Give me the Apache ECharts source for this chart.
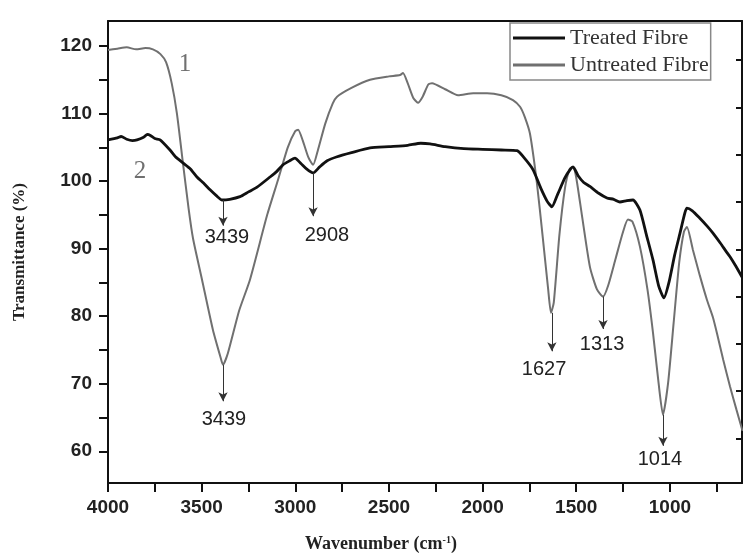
<!DOCTYPE html>
<html>
<head>
<meta charset="utf-8">
<script src="https://cdn.jsdelivr.net/npm/echarts@6/dist/echarts.min.js"></script>
<style>
  html, body { margin: 0; padding: 0; background: #fff; }
  #chart { width: 743px; height: 560px; }
</style>
</head>
<body>
<div id="chart"></div>
<script>
// wavenumber (cm-1), transmittance (%)
var untreated = [
  [4000,119.4],[3950,119.6],[3900,119.8],[3850,119.5],[3800,119.7],[3760,119.5],
  [3720,118.8],[3690,117.6],[3660,114.5],[3632,110],[3600,102.7],[3570,96],
  [3546,91.5],[3498,85.4],[3440,78],[3400,74],[3386,72.8],[3360,74.5],
  [3300,80.8],[3242,85.4],[3150,95],[3092,100.2],[3040,105],[3000,107.4],
  [2985,107.6],[2960,106],[2930,103.5],[2905,102.4],[2880,104.5],[2840,108.5],
  [2800,111.5],[2777,112.5],[2700,113.8],[2601,115],[2500,115.5],[2441,115.7],
  [2425,116],[2400,114.5],[2370,112.3],[2345,111.6],[2320,112.5],[2290,114.3],
  [2270,114.5],[2200,113.6],[2131,112.7],[2050,113],[1976,113],[1900,112.7],
  [1838,112],[1800,111],[1775,109.5],[1747,107],[1710,99.7],[1680,92],
  [1650,84],[1635,80.5],[1620,82],[1590,92],[1560,99],[1535,101.8],
  [1517,102.1],[1500,100.5],[1470,95],[1427,87.3],[1390,84],[1357,82.9],
  [1330,84.5],[1290,88.5],[1250,92.5],[1224,94.3],[1200,94],[1160,90.3],
  [1120,84],[1090,77.5],[1060,70],[1037,65.4],[1010,70],[980,79],
  [950,88],[925,92.5],[909,93.2],[877,89.8],[840,86],[802,82.4],
  [770,79.8],[749,77.5],[715,73.5],[679,69.6],[645,66.2],[612,63]
];
var treated = [
  [4000,106.1],[3950,106.4],[3930,106.6],[3900,106.2],[3870,106.0],[3845,106.1],
  [3810,106.5],[3790,106.9],[3776,106.8],[3750,106.3],[3722,106.1],[3669,104.6],
  [3640,103.6],[3600,102.7],[3560,101.8],[3525,100.6],[3490,99.7],[3455,98.7],
  [3420,97.8],[3391,97.2],[3350,97.3],[3295,97.7],[3250,98.4],[3204,99.1],
  [3135,100.6],[3100,101.4],[3066,102.4],[3030,103],[3002,103.4],[2970,102.6],
  [2940,101.8],[2905,101.2],[2870,102.1],[2830,103],[2777,103.6],[2700,104.2],
  [2601,104.9],[2500,105.1],[2400,105.3],[2330,105.6],[2280,105.5],[2200,105.1],
  [2100,104.8],[2000,104.7],[1900,104.6],[1816,104.5],[1780,103.5],[1731,101.7],
  [1690,99],[1655,97],[1630,96.2],[1600,98],[1560,100.5],[1530,101.8],
  [1517,102.1],[1490,100.8],[1460,99.8],[1427,99.2],[1380,98.2],[1336,97.5],
  [1300,97.3],[1267,96.9],[1230,97.1],[1197,97.2],[1160,95.7],[1125,92],
  [1090,88.3],[1060,84.5],[1032,82.7],[1005,85],[975,89],[946,92.3],
  [920,95.3],[909,96],[880,95.6],[840,94.5],[800,93.3],[770,92.3],
  [730,90.8],[700,89.6],[679,88.8],[650,87.5],[615,85.8]
];

var seriesNames = ['Treated Fibre', 'Untreated Fibre'];

var xLabelValues = [4000, 3500, 3000, 2500, 2000, 1500, 1000];
var xTickValues = [4000, 3750, 3500, 3250, 3000, 2750, 2500, 2250, 2000, 1750, 1500, 1250, 1000, 750];
var yLabelValues = [60, 70, 80, 90, 100, 110, 120];
var yTickValues = [60, 65, 70, 75, 80, 85, 90, 95, 100, 105, 110, 115, 120];
var rightTickValues = [61.9, 68.9, 75.9, 82.9, 89.9, 96.9, 103.9, 110.9, 117.9];

// peak arrows: [wavenumber, from, to], label: [text, x, y]
var treatedPeaks = [[3386, 97.2, 93.4], [2905, 101.2, 94.8]];
var treatedLabels = [['3439', 3365, 91.6], ['2908', 2831, 92.0]];
var untreatedPeaks = [[3386, 72.8, 67.4], [1630, 80.5, 74.8], [1357, 82.9, 78.1], [1037, 65.4, 60.8]];
var untreatedLabels = [['3439', 3381, 64.7], ['1627', 1672, 72.1], ['1313', 1362, 75.8], ['1014', 1053, 58.8]];
// curve numbers: [text, x, y]
var curveTags = [['1', 3589, 117.2], ['2', 3829, 101.4]];

var chart = echarts.init(document.getElementById('chart'));

function arrows(list) {
  return list.map(function (p) {
    return [{ coord: [p[0], p[1]] }, { coord: [p[0], p[2]] }];
  });
}
function textPoints(list, style) {
  return list.map(function (p) {
    return {
      coord: [p[1], p[2]],
      symbol: 'circle', symbolSize: 1,
      itemStyle: { color: 'rgba(0,0,0,0)' },
      label: Object.assign({ show: true, position: 'inside', formatter: p[0] }, style)
    };
  });
}

var peakStyle = { fontFamily: 'Liberation Sans', fontSize: 20, color: '#222' };
var tagStyle = { fontFamily: 'Liberation Serif', fontSize: 25, color: '#707070' };

var option = {
  animation: false,
  backgroundColor: '#fff',
  grid: { left: 108, right: 1, top: 21, bottom: 77 },
  title: {
    text: '{a|Wavenumber (cm}{s|-1}{a|)}',
    left: 376, top: 530, textAlign: 'center',
    textStyle: {
      rich: {
        a: { fontFamily: 'Liberation Serif', fontWeight: 'bold', fontSize: 18, color: '#222' },
        s: { fontFamily: 'Liberation Serif', fontWeight: 'bold', fontSize: 10, color: '#222', verticalAlign: 'top', padding: [0, 0, 8, 0] }
      }
    }
  },
  legend: {
    data: [
      { name: seriesNames[0], icon: 'rect', itemStyle: { color: '#111' } },
      { name: seriesNames[1], icon: 'rect', itemStyle: { color: '#707070' } }
    ],
    orient: 'vertical',
    left: 510, top: 23,
    padding: [4, 2, 4, 3],
    itemGap: 5,
    itemWidth: 52, itemHeight: 3,
    borderColor: '#888', borderWidth: 1.5,
    textStyle: { fontFamily: 'Liberation Serif', fontSize: 22, color: '#333' }
  },
  xAxis: [{
    type: 'value', inverse: true, min: 615, max: 4000,
    splitLine: { show: false },
    axisLine: { onZero: false, lineStyle: { color: '#111', width: 2 } },
    axisTick: { inside: false, length: 9, customValues: xTickValues, lineStyle: { color: '#111', width: 2 } },
    axisLabel: {
      customValues: xLabelValues, margin: 15, formatter: function (v) { return String(v); },
      fontFamily: 'Liberation Sans', fontWeight: 'bold', fontSize: 19, color: '#222'
    }
  }, {
    type: 'value', inverse: true, min: 615, max: 4000, position: 'top',
    splitLine: { show: false },
    axisLine: { onZero: false, lineStyle: { color: '#111', width: 2 } },
    axisTick: { show: false },
    axisLabel: { show: false }
  }],
  yAxis: [{
    type: 'value', min: 55.3, max: 123.7,
    name: 'Transmittance (%)', nameLocation: 'middle', nameGap: 80,
    nameTextStyle: { fontFamily: 'Liberation Serif', fontWeight: 'bold', fontSize: 17, color: '#222' },
    splitLine: { show: false },
    axisLine: { onZero: false, lineStyle: { color: '#111', width: 2 } },
    axisTick: { inside: false, length: 9, customValues: yTickValues, lineStyle: { color: '#111', width: 2 } },
    axisLabel: { customValues: yLabelValues, margin: 16, fontFamily: 'Liberation Sans', fontWeight: 'bold', fontSize: 19, color: '#222' }
  }, {
    type: 'value', min: 55.3, max: 123.7, position: 'right',
    splitLine: { show: false },
    axisLine: { onZero: false, lineStyle: { color: '#111', width: 2 } },
    axisTick: { inside: true, length: 6, customValues: rightTickValues, lineStyle: { color: '#111', width: 2 } },
    axisLabel: { show: false }
  }],
  series: [{
    name: seriesNames[0],
    type: 'line',
    data: treated,
    symbol: 'none',
    smooth: 0.2,
    lineStyle: { color: '#111', width: 2.8 },
    itemStyle: { color: '#111' },
    z: 3,
    markLine: {
      silent: true, symbol: ['none', 'arrow'], symbolSize: [7, 9],
      label: { show: false },
      lineStyle: { color: '#333', width: 1, type: 'solid' },
      data: arrows(treatedPeaks)
    },
    markPoint: { silent: true, data: textPoints(treatedLabels, peakStyle).concat(textPoints(curveTags, tagStyle)) }
  }, {
    name: seriesNames[1],
    type: 'line',
    data: untreated,
    symbol: 'none',
    smooth: 0.2,
    lineStyle: { color: '#707070', width: 2 },
    itemStyle: { color: '#707070' },
    z: 2,
    markLine: {
      silent: true, symbol: ['none', 'arrow'], symbolSize: [7, 9],
      label: { show: false },
      lineStyle: { color: '#333', width: 1, type: 'solid' },
      data: arrows(untreatedPeaks)
    },
    markPoint: { silent: true, data: textPoints(untreatedLabels, peakStyle) }
  }]
};

chart.setOption(option);
</script>
</body>
</html>
